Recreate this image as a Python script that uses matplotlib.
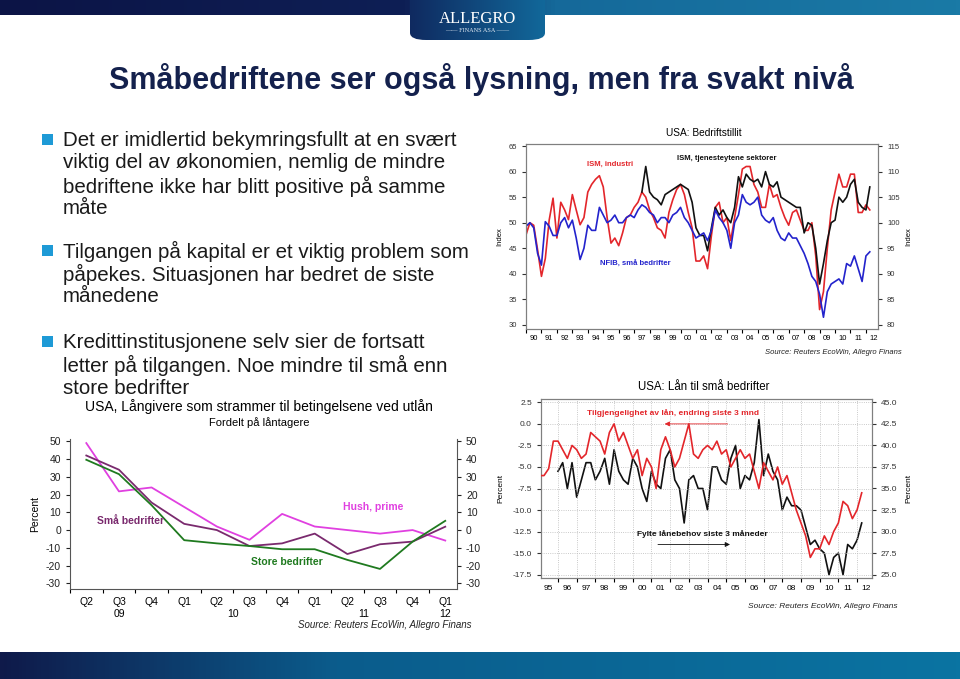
import numpy as np
import matplotlib
matplotlib.use('Agg')
import matplotlib.pyplot as plt
from matplotlib.colors import LinearSegmentedColormap
from matplotlib.patches import Rectangle, FancyBboxPatch
from matplotlib.transforms import blended_transform_factory

plt.rcParams['font.family'] = ['Liberation Sans', 'DejaVu Sans']
plt.rcParams['axes.unicode_minus'] = False

# --- data: USA Bedriftstillit (quarterly readings) ---
ism_start = 1990.0
ism_industri = [47.6, 50, 49.5, 44.7,
                39.5, 43, 50.5, 54.8,
                47, 54, 52.5, 50.6,
                55.5, 52.5, 49.6, 51,
                56, 57.5, 58.5, 59.2,
                57, 51, 46, 47,
                45.5, 48, 51, 51.5,
                53, 54, 56, 55,
                52.5, 51, 49, 48.5,
                47, 52, 54.5, 56.5,
                57.5, 55.5, 52, 49,
                42.5, 42.5, 43.5, 41,
                47.5, 53, 54, 50,
                51, 46.5, 51, 55.5,
                60.5, 61, 61, 57.5,
                56, 53, 53, 57.5,
                55, 55.5, 53, 51,
                49.5, 52, 52.5, 50.5,
                48.5, 48.5, 50, 43.5,
                33, 36.5, 45, 52.5,
                56, 59.5, 57, 57,
                59.5, 59.5, 52, 52,
                53.5, 52.5]
serv_start = 1997.5
ism_tjenester = [56, 61,
                 56, 55, 54.5, 53.5,
                 55.5, 56, 56.5, 57,
                 57.5, 57, 56.5, 54,
                 49, 47.5, 47.5, 44.5,
                 49, 53, 51.5, 52.5,
                 51, 50, 53, 59,
                 57, 59.5, 58.5, 58,
                 58.5, 57, 60, 57.5,
                 57, 58, 55, 54.5,
                 54, 53.5, 53, 53,
                 48, 50, 49.5, 45,
                 38, 42, 46.5, 50,
                 50.5, 55, 54, 55,
                 57.5, 58.5, 54, 53,
                 52.5, 57]
nfib_start = 1990.0
nfib = [99.3, 100, 99, 94,
        91.7, 100.2, 99.3, 97.5,
        97.5, 100, 101, 99,
        100.5, 97, 92.8, 95,
        99.5, 98.5, 98.5, 103,
        101.5, 100, 100.5, 101.5,
        100, 100, 101, 101.5,
        101, 102.5, 103.5, 103,
        102, 101.5, 100, 101,
        101, 100, 101.5, 102,
        103, 101, 100, 98.5,
        97, 97.5, 98, 96.5,
        98.5, 102.5, 101, 100,
        98.5, 95, 100, 101.5,
        105.5, 104, 103.5, 104,
        105, 101.5, 100.5, 100,
        101, 98.5, 97, 96.5,
        98, 97, 97, 95.5,
        94, 92, 89.5, 88.5,
        86, 81.5, 86.5, 88,
        88.5, 89, 88, 92,
        91.5, 93.5, 91, 88.5,
        93.5, 94.3]

# --- data: USA Lån til små bedrifter ---
tilg_start = 1995.0
tilgjengelighet = [-6, -6, -5.2, -2,
                   -2, -3, -4, -2.5,
                   -3, -4, -3.5, -1,
                   -1.5, -2, -3.5, -1,
                   0, -2, -1, -2.5,
                   -4, -3, -6, -4,
                   -5, -7.5, -3, -1.5,
                   -3, -5, -4, -2,
                   0, -3.5, -4, -3,
                   -2.5, -3, -2, -3.5,
                   -3, -5, -4, -3,
                   -4, -3.5, -5.5, -7.5,
                   -4.5, -5.5, -6.5, -5,
                   -7, -6, -8, -10,
                   -11.5, -13, -15.5, -14.5,
                   -14.5, -13, -14, -12.5,
                   -11.5, -9, -9.5, -11,
                   -10, -8]
fylte_start = 1996.0
fylte = [37, 38, 35, 38,
         34, 36, 38, 38,
         36, 37, 38.5, 35.5,
         39.5, 37, 36, 35.5,
         38.5, 37.5, 35, 33.5,
         37, 35.5, 35, 38.5,
         39.5, 36, 35, 31,
         36, 36.5, 35, 35,
         32.5, 37.5, 37.5, 36,
         35.5, 38.5, 40, 35,
         36.5, 36, 38, 43,
         36.5, 39, 37, 36,
         32.5, 34, 33, 33,
         32.5, 30.5, 28.5, 29,
         28, 27.5, 25, 27,
         27.5, 25, 28.5, 28,
         29, 31]

# --- data: Långivere som strammer til ---
kvartal = ['Q2', 'Q3', 'Q4', 'Q1', 'Q2', 'Q3', 'Q4', 'Q1', 'Q2', 'Q3', 'Q4', 'Q1']
hush_prime = [49, 21.8, 24, 13, 2, -5.5, 9.1, 2, 0, -2, 0, -5.9]
sma_bedrifter = [42, 34, 15.5, 3.5, 0, -9, -7.5, -2, -13.5, -8, -6.5, 1.9]
store_bedrifter = [39.6, 31.5, 14, -5.7, -7.5, -9, -10.8, -10.8, -16.8, -21.9, -6.5, 5.2]

W, H = 960, 679
fig = plt.figure(figsize=(9.6, 6.79), dpi=100)


def box(x0, y0, x1, y1):
    return [x0 / W, 1 - y1 / H, (x1 - x0) / W, (y1 - y0) / H]


def px(x, y):
    return x / W, 1 - y / H


def gradient(rect, colors, clip_round=False):
    a = fig.add_axes(rect)
    cmap = LinearSegmentedColormap.from_list('g', colors)
    im = a.imshow(np.linspace(0, 1, 256)[None, :], aspect='auto', cmap=cmap,
                  extent=[0, 1, 0, 1])
    a.set_xlim(0, 1)
    a.set_ylim(0, 1)
    a.axis('off')
    if clip_round:
        p = FancyBboxPatch((0, 0), 1, 1, boxstyle='round,pad=0,rounding_size=0.12',
                           transform=a.transAxes, facecolor='none', edgecolor='none')
        a.add_patch(p)
        im.set_clip_path(p)
    return a


# header and footer bands
gradient(box(0, 0, 960, 15), [(0, '#0c1446'), (0.42, '#0e1f55'), (0.58, '#15699a'), (1, '#1a7aa6')])
gradient(box(0, 652, 960, 679), [(0, '#0f1a4a'), (0.35, '#0b5c8c'), (1, '#0a74a2')])
lg = gradient(box(410, -20, 545, 40), [(0, '#0f2a60'), (1, '#12689a')], clip_round=True)
fig.text(*px(477, 19), 'ALLEGRO', color='white', fontsize=12, ha='center', va='center',
         family=['Liberation Serif', 'DejaVu Serif'])
fig.text(*px(477, 31), '—— FINANS ASA ——', color='#dfe8f2', fontsize=4.5, ha='center', va='center',
         family=['Liberation Serif', 'DejaVu Serif'])

# title
fig.text(*px(481, 80), 'Småbedriftene ser også lysning, men fra svakt nivå', fontsize=22,
         fontweight='bold', color='#14214d', ha='center', va='center')

# bullets
bullets = [
    (140, ['Det er imidlertid bekymringsfullt at en svært',
           'viktig del av økonomien, nemlig de mindre',
           'bedriftene ikke har blitt positive på samme',
           'måte']),
    (251, ['Tilgangen på kapital er et viktig problem som',
           'påpekes. Situasjonen har bedret de siste',
           'månedene']),
    (342, ['Kredittinstitusjonene selv sier de fortsatt',
           'letter på tilgangen. Noe mindre til små enn',
           'store bedrifter']),
]
for y0, lines in bullets:
    fig.patches.append(Rectangle(px(42, y0 + 5), 11 / W, 11 / H, transform=fig.transFigure,
                                 facecolor='#1e9ad6', edgecolor='none'))
    for i, line in enumerate(lines):
        fig.text(*px(63, y0 + i * 23), line, fontsize=14.8, color='#1a1a1a', va='center')

# ---- top right chart ----
red, blue, black = '#e3262b', '#2323cc', '#111111'
ax1 = fig.add_axes(box(526, 144, 878, 329))
t_ind = ism_start + np.arange(len(ism_industri)) / 4
t_serv = serv_start + np.arange(len(ism_tjenester)) / 4
t_nfib = nfib_start + np.arange(len(nfib)) / 4
ax1.plot(t_ind, ism_industri, color=red, lw=1.2)
ax1.plot(t_serv, ism_tjenester, color=black, lw=1.2)
ax1r = ax1.twinx()
ax1r.plot(t_nfib, nfib, color=blue, lw=1.2)
ax1.set_xlim(1990, 2012.78)
ax1.set_ylim(29.2, 65.4)
ax1r.set_ylim(79.2, 115.4)
ax1.set_yticks(range(30, 66, 5))
ax1r.set_yticks(range(80, 116, 5))
years1 = list(range(1990, 2013))
ax1.set_xticks(years1)
ax1.set_xticklabels([])
ax1.set_xticks([y + 0.5 for y in years1], minor=True)
ax1.set_xticklabels(['%02d' % (y % 100) for y in years1], minor=True)
ax1.tick_params(axis='x', which='minor', length=0, labelsize=5.5, pad=4)
ax1.tick_params(axis='x', which='major', length=3)
for a in (ax1, ax1r):
    a.tick_params(axis='y', labelsize=5.5, length=3, colors='#333333')
    for s in a.spines.values():
        s.set_color('#7f7f7f')
        s.set_linewidth(0.8)
ax1.set_ylabel('Index', fontsize=5.5, labelpad=4)
ax1r.set_ylabel('Index', fontsize=5.5, labelpad=4)
fig.text(*px(704, 133), 'USA: Bedriftstillit', fontsize=7.3, ha='center', va='center')
fig.text(*px(610, 164), 'ISM, industri', fontsize=5.5, color=red, fontweight='bold', ha='center', va='center')
fig.text(*px(727, 158), 'ISM, tjenesteytene sektorer', fontsize=5.5, color=black, fontweight='bold',
         ha='center', va='center')
fig.text(*px(635, 264), 'NFIB, små bedrifter', fontsize=5.5, color=blue, fontweight='bold',
         ha='center', va='center')
fig.text(*px(902, 353), 'Source: Reuters EcoWin, Allegro Finans', fontsize=5.5, style='italic',
         ha='right', va='center', color='#222222')

# ---- bottom right chart ----
ax2 = fig.add_axes(box(541, 399, 872, 578))
t_tilg = tilg_start + np.arange(len(tilgjengelighet)) / 4
t_fylte = fylte_start + np.arange(len(fylte)) / 4
ax2.set_xlim(1995.09, 2012.8)
ax2.set_ylim(-17.89, 2.89)
ax2r = ax2.twinx()
ax2r.set_ylim(24.61, 45.39)
ax2r.plot(t_fylte, fylte, color=black, lw=1.2)
ax2.plot(t_tilg, tilgjengelighet, color=red, lw=1.2, zorder=3)
ax2.set_zorder(ax2r.get_zorder() + 1)
ax2.patch.set_visible(False)
ax2.set_yticks(np.arange(-17.5, 2.6, 2.5))
ax2.set_yticklabels(['%.1f' % v for v in np.arange(-17.5, 2.6, 2.5)])
ax2r.set_yticks(np.arange(25, 45.1, 2.5))
ax2r.set_yticklabels(['%.1f' % v for v in np.arange(25, 45.1, 2.5)])
years2 = list(range(1995, 2013))
ax2.set_xticks(years2[1:])
ax2.set_xticklabels([])
ax2.set_xticks([y + 0.5 for y in years2], minor=True)
ax2.set_xticklabels(['%02d' % (y % 100) for y in years2], minor=True)
ax2.tick_params(axis='x', which='minor', length=0, labelsize=6, pad=5)
ax2.tick_params(axis='x', which='major', length=3)
ax2.grid(True, which='major', ls=':', color='#b8b8b8', lw=0.6)
for a in (ax2, ax2r):
    a.tick_params(axis='y', labelsize=6, length=3, colors='#333333')
    for s in a.spines.values():
        s.set_color('#7f7f7f')
        s.set_linewidth(0.8)
ax2.set_ylabel('Percent', fontsize=6, labelpad=6)
ax2r.set_ylabel('Percent', fontsize=6, labelpad=6)
ax2.annotate('', xy=(2001.56, 0.0), xytext=(2005.22, 0.0),
             arrowprops=dict(arrowstyle='-|>', color=red, lw=0.6, mutation_scale=7))
ax2.annotate('', xy=(2005.35, -14.0), xytext=(2001.2, -14.0),
             arrowprops=dict(arrowstyle='-|>', color=black, lw=0.6, mutation_scale=7))
fig.text(*px(704, 387), 'USA: Lån til små bedrifter', fontsize=8.3, ha='center', va='center')
fig.text(*px(673, 413), 'Tilgjengelighet av lån, endring siste 3 mnd', fontsize=6, color=red,
         fontweight='bold', ha='center', va='center')
fig.text(*px(702, 534), 'Fylte lånebehov siste 3 måneder', fontsize=6, color=black,
         fontweight='bold', ha='center', va='center')
fig.text(*px(898, 607), 'Source: Reuters EcoWin, Allegro Finans', fontsize=6, style='italic',
         ha='right', va='center', color='#222222')

# ---- left chart ----
magenta, purple, green = '#e040e0', '#7a2a6e', '#1f7a1f'
ax3 = fig.add_axes(box(70, 439, 457, 589))
xq = np.arange(len(kvartal))
ax3.plot(xq, hush_prime, color=magenta, lw=1.3)
ax3.plot(xq, sma_bedrifter, color=purple, lw=1.3)
ax3.plot(xq, store_bedrifter, color=green, lw=1.3)
ax3.set_xlim(-0.5, 11.36)
ax3.set_ylim(-33.2, 51.3)
ax3.set_yticks(range(-30, 51, 10))
ax3.tick_params(axis='y', right=True, labelright=True, labelsize=7.5, length=3, colors='#222222')
ax3.set_xticks(np.arange(-0.5, 11, 1))
ax3.set_xticklabels([])
ax3.set_xticks(xq, minor=True)
ax3.set_xticklabels(kvartal, minor=True)
ax3.tick_params(axis='x', which='minor', length=0, labelsize=7.5, pad=6)
ax3.tick_params(axis='x', which='major', length=3)
ax3.spines['top'].set_visible(False)
for s in ('left', 'right', 'bottom'):
    ax3.spines[s].set_color('#555555')
    ax3.spines[s].set_linewidth(0.8)
ax3.set_ylabel('Percent', fontsize=7.5, labelpad=4)
trans = blended_transform_factory(ax3.transData, fig.transFigure)
for xpos, lab in [(1, '09'), (4.5, '10'), (8.5, '11'), (11, '12')]:
    ax3.text(xpos, 1 - 614 / H, lab, transform=trans, fontsize=7.5, ha='center', va='center')
fig.text(*px(259, 407), 'USA, Långivere som strammer til betingelsene ved utlån', fontsize=10,
         ha='center', va='center')
fig.text(*px(259, 423), 'Fordelt på låntagere', fontsize=8, ha='center', va='center')
fig.text(*px(131, 521), 'Små bedrifter', fontsize=7.5, color=purple, fontweight='bold', ha='center', va='center')
fig.text(*px(373, 507), 'Hush, prime', fontsize=7.5, color=magenta, fontweight='bold', ha='center', va='center')
fig.text(*px(287, 562), 'Store bedrifter', fontsize=7.5, color=green, fontweight='bold', ha='center', va='center')
fig.text(*px(472, 625), 'Source: Reuters EcoWin, Allegro Finans', fontsize=7, style='italic',
         ha='right', va='center', color='#222222')

fig.savefig('out.png', dpi=100)
